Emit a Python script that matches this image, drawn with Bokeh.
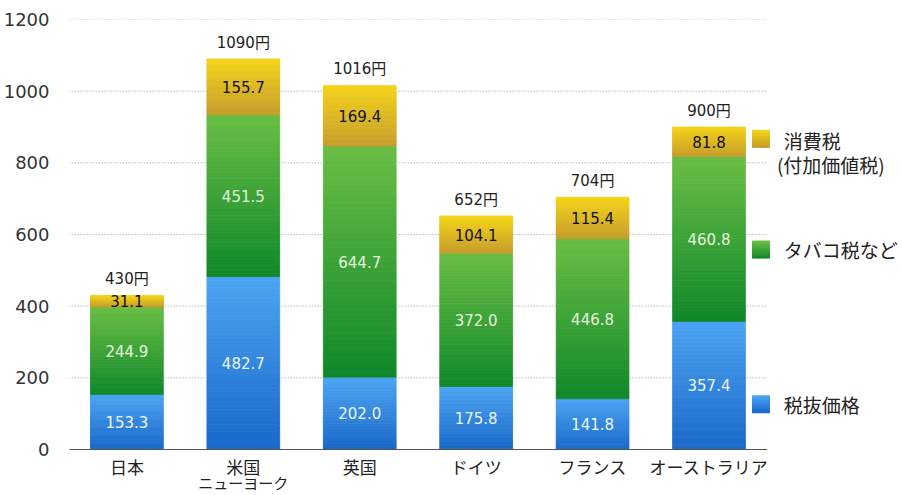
import numpy as np
from bokeh.plotting import figure
from bokeh.models import Range1d, FixedTicker
from bokeh.core.properties import value
from bokeh.embed import file_html
from bokeh.resources import INLINE

# ---- data ----
categories = ["日本", "米国\nニューヨーク", "英国", "ドイツ", "フランス", "オーストラリア"]
base_price = [153.3, 482.7, 202.0, 175.8, 141.8, 357.4]      # 税抜価格
tobacco_tax = [244.9, 451.5, 644.7, 372.0, 446.8, 460.8]     # タバコ税など
consumption_tax = [31.1, 155.7, 169.4, 104.1, 115.4, 81.8]   # 消費税（付加価値税）
totals = [430, 1090, 1016, 652, 704, 900]
series_names = ["税抜価格", "タバコ税など", "消費税\n(付加価値税)"]
y_ticks = [0, 200, 400, 600, 800, 1000, 1200]

FONT = "DejaVu Sans, Noto Sans CJK JP"
JFONT = "Noto Sans CJK JP"
# gradient (bottom colour, top colour) per series
grads = [((0x18, 0x68, 0xc8), (0x4c, 0xa4, 0xf2)),
         ((0x0f, 0x88, 0x2a), (0x6a, 0xbe, 0x44)),
         ((0xc6, 0x9c, 0x2c), (0xf4, 0xd4, 0x1a))]
label_colors = ["#eef6ff", "#e6f5de", "#111111"]
BAR_W = 0.625
N = 48

def hexc(c):
    return "#%02x%02x%02x" % tuple(int(round(v)) for v in c)

def mix(c0, c1, t):
    return hexc([a + (b - a) * t for a, b in zip(c0, c1)])

# frame: top at y=19 px (1200), 0 at y=449 px, bottom of canvas 495
PX_PER_UNIT = 430 / 1200
y_start = 1200 - 476 / PX_PER_UNIT

p = figure(width=902, height=495, output_backend="svg", toolbar_location=None,
           x_range=Range1d(-0.493, 6.662), y_range=Range1d(y_start, 1200),
           min_border_left=67, min_border_right=0, min_border_top=19,
           min_border_bottom=0)
p.outline_line_color = None
p.background_fill_color = "white"
p.border_fill_color = "white"
p.xgrid.visible = False
p.ygrid.visible = False
p.xaxis.visible = False

n = len(categories)
xs = np.arange(n)
stacks = [base_price, tobacco_tax, consumption_tax]

# gridlines limited to category span
grid_y = [t for t in y_ticks if t > 0]
p.segment(x0=[-0.5] * len(grid_y), x1=[n - 0.5] * len(grid_y), y0=grid_y, y1=grid_y,
          line_color="#9a9a9a", line_width=1, line_dash="1 2")

# stacked bars with vertical gradient
bottom = np.zeros(n)
for si, vals in enumerate(stacks):
    vals = np.array(vals)
    top = bottom + vals
    L, R, B, T, C = [], [], [], [], []
    for i in range(n):
        for k in range(N):
            b = bottom[i] + vals[i] * k / N
            t = bottom[i] + vals[i] * (k + 1) / N
            L.append(xs[i] - BAR_W / 2); R.append(xs[i] + BAR_W / 2)
            B.append(b); T.append(t)
            C.append(mix(grads[si][0], grads[si][1], (k + 0.5) / N))
    p.quad(left=L, right=R, bottom=B, top=T, fill_color=C, line_color=C, line_width=0.8)
    mids = bottom + vals / 2
    p.text(x=xs, y=mids, text=["%.1f" % v for v in vals], text_align="center",
           text_baseline="middle", text_font=value(FONT), text_font_size="15px",
           text_color=label_colors[si])
    bottom = top

# totals
p.text(x=xs, y=totals, text=["%d円" % t for t in totals], text_align="center",
       text_baseline="bottom", y_offset=-7, text_font=value(FONT),
       text_font_size="15px", text_color="#222222")

# x axis baseline
p.segment(x0=[-0.5], x1=[n - 0.5], y0=[0], y1=[0], line_color="#555555", line_width=1.2)

# category labels (below baseline)
first = [c.split("\n")[0] for c in categories]
second = [c.split("\n")[1] if "\n" in c else "" for c in categories]
p.text(x=xs, y=[0] * n, text=first, text_align="center", text_baseline="middle",
       y_offset=17, text_font=value(JFONT), text_font_size="17px", text_color="#222222")
p.text(x=xs, y=[0] * n, text=second, text_align="center", text_baseline="middle",
       y_offset=33, text_font=value(JFONT), text_font_size="15px", text_color="#222222")

# legend (drawn in data space)
leg_x = 5.446
leg_y = [126, 558, 867]
sq_w = 17 / 116.7
sq_h = 17 / PX_PER_UNIT
for si in range(3):
    L, R, B, T, C = [], [], [], [], []
    for k in range(N):
        L.append(leg_x - sq_w / 2); R.append(leg_x + sq_w / 2)
        B.append(leg_y[si] - sq_h / 2 + sq_h * k / N)
        T.append(leg_y[si] - sq_h / 2 + sq_h * (k + 1) / N)
        C.append(mix(grads[si][0], grads[si][1], (k + 0.5) / N))
    p.quad(left=L, right=R, bottom=B, top=T, fill_color=C, line_color=C, line_width=0.8)
leg_text_x = 5.643
p.text(x=[leg_text_x, leg_text_x], y=[leg_y[0], leg_y[1]],
       text=[series_names[0], series_names[1]], text_align="left", text_baseline="middle",
       text_font=value(JFONT), text_font_size="19px", text_color="#222222")
lines = series_names[2].split("\n")
p.text(x=[leg_text_x, leg_text_x - 0.06], y=[leg_y[2] - 5, leg_y[2] - 72],
       text=lines, text_align="left", text_baseline="middle",
       text_font=value(JFONT), text_font_size="19px", text_color="#222222")

# y axis
p.yaxis.ticker = FixedTicker(ticks=y_ticks)
p.yaxis.axis_line_color = None
p.yaxis.major_tick_line_color = None
p.yaxis.minor_tick_line_color = None
p.yaxis.major_label_text_font = FONT
p.yaxis.major_label_text_font_size = "18px"
p.yaxis.major_label_text_color = "#333333"
p.yaxis.major_label_standoff = 14

open("out.html", "w").write(file_html(p, INLINE))
